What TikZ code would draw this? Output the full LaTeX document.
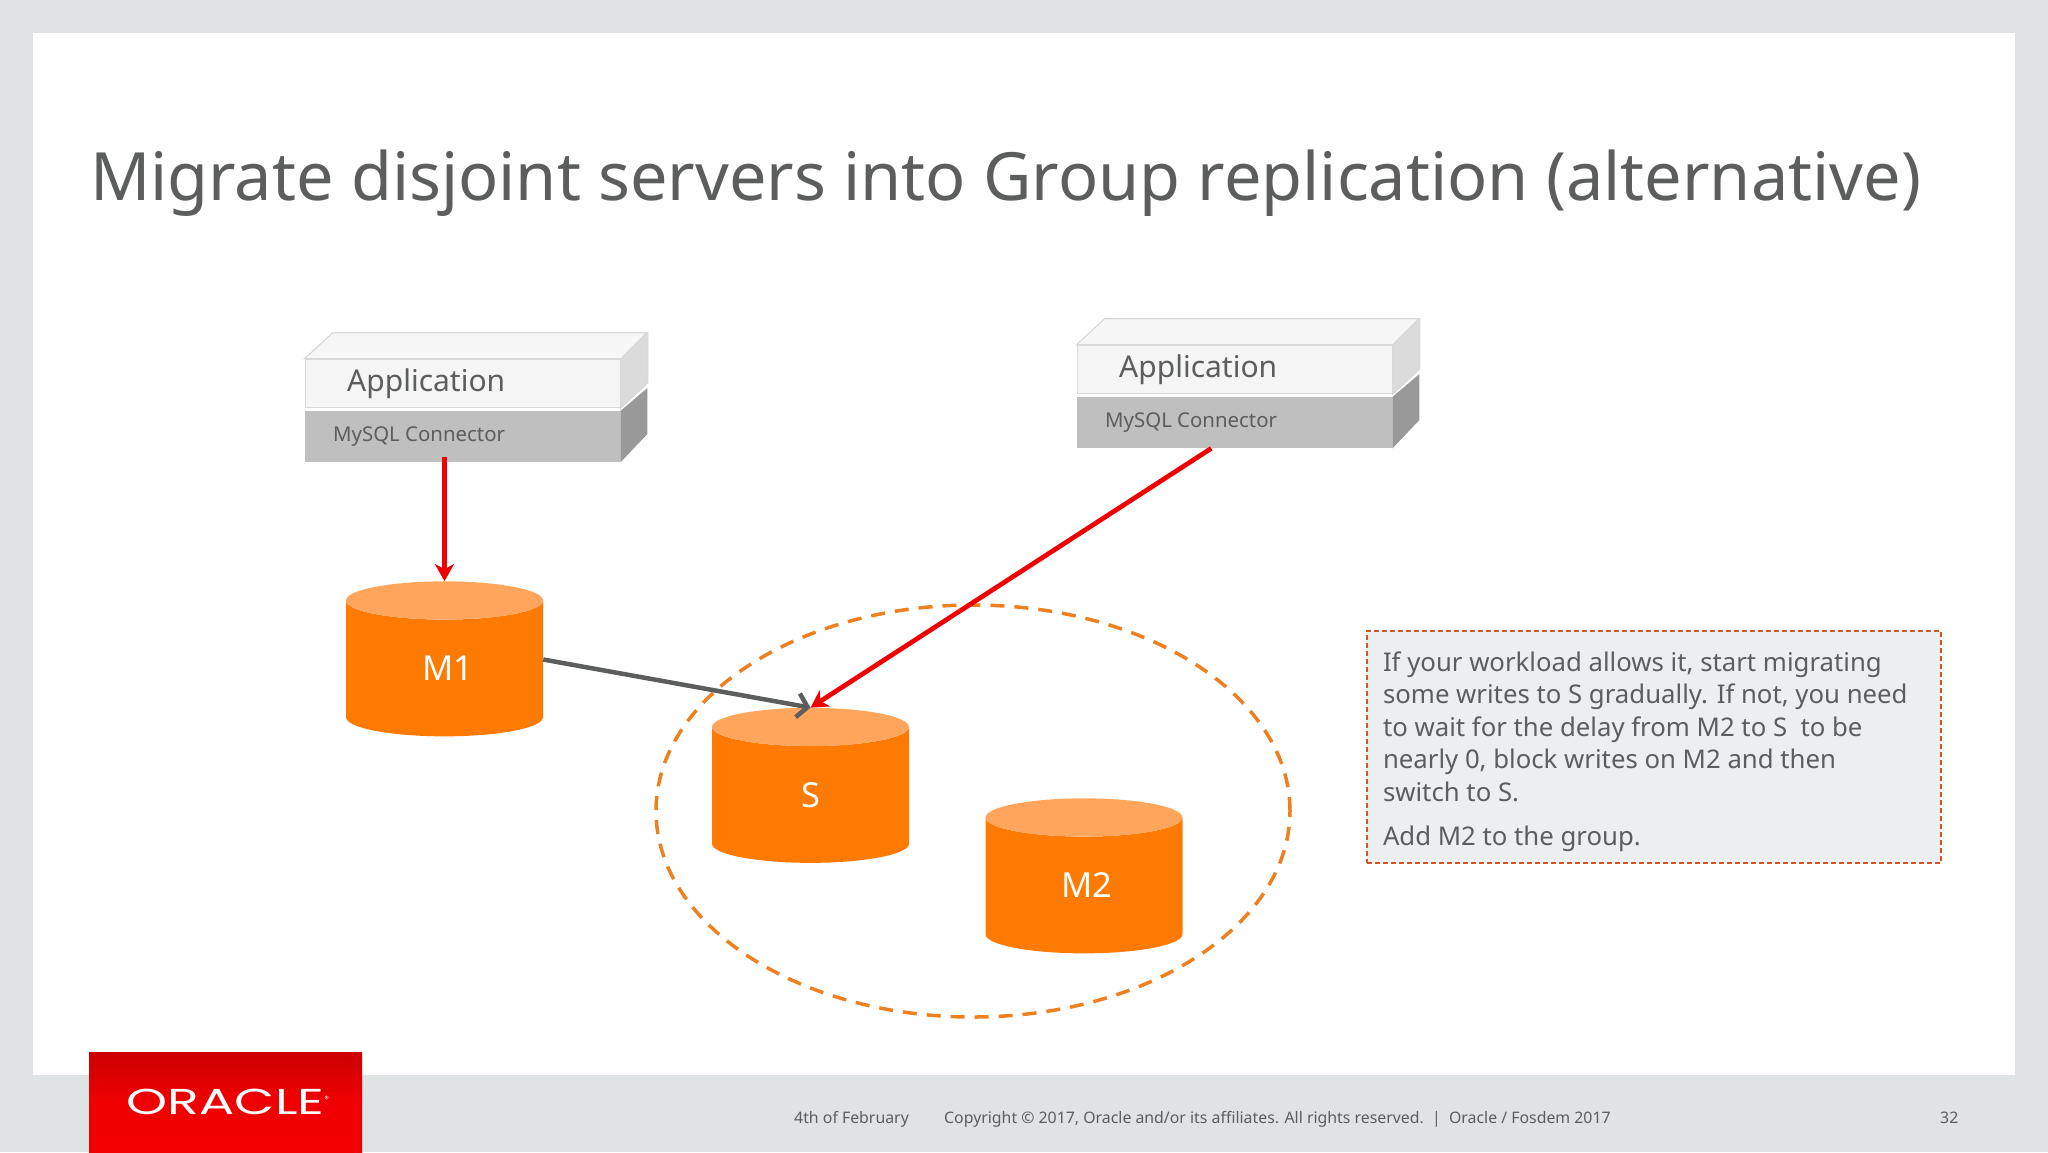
\documentclass[tikz,border=0pt]{standalone}
\usepackage{fontspec}
\setmainfont{Noto Sans}
\newfontfamily\logofont{Poppins}
\usetikzlibrary{shapes.geometric, calc, positioning, arrows.meta}
\definecolor{framegray}{HTML}{DFE3E3}
\definecolor{textgray}{HTML}{5C5E5E}
\definecolor{dborange}{HTML}{FF7A00}
\definecolor{dbtop}{HTML}{FFA65C}
\definecolor{ringorange}{HTML}{EE8020}
\definecolor{notefill}{HTML}{ECEFF0}
\definecolor{noteborder}{HTML}{D0562A}
\definecolor{arrowred}{HTML}{F00000}

\begin{document}
\begin{tikzpicture}[
		x=1pt, y=-1pt,
		>=Stealth,
		appface/.style={
				draw=black!15,
				line width=1.2pt,
				fill=black!4,
				rectangle,
				minimum width=315pt,
				minimum height=48pt,
				inner xsep=42pt,
				inner ysep=0pt,
				text width=231pt,
				align=flush left,
				text=textgray,
				font=\fontsize{30}{36}\selectfont
			},
		connface/.style={
				fill=black!25,
				rectangle,
				minimum width=315pt,
				minimum height=51pt,
				inner xsep=28pt,
				inner ysep=0pt,
				text width=259pt,
				align=flush left,
				text=textgray,
				font=\fontsize{20.4}{28}\selectfont
			},
		database/.style={
				cylinder,
				shape border rotate=90,
				cylinder uses custom fill,
				cylinder body fill=dborange,
				cylinder end fill=dbtop,
				aspect=0.85,
				minimum width=197pt,
				minimum height=155pt,
				inner sep=0pt,
				text width=45pt,
				text height=24pt,
				text depth=0pt,
				align=center,
				text=white,
				font=\fontsize{34.5}{40}\selectfont
			},
		writeflow/.style={
				->,
				draw=arrowred,
				line width=4.7pt,
				>={Stealth[length=17pt,width=19pt,inset=5pt]}
			},
		replflow/.style={
				->,
				draw=textgray,
				line width=4.5pt,
				>={Straight Barb[length=10pt,width=24pt]}
			},
		footer/.style={
				text=textgray,
				inner sep=0pt,
				anchor=base west,
				font=\fontsize{15.85}{20}\selectfont
			}
	]
	\useasboundingbox (0,0) rectangle (2048,1152);
	\fill[framegray] (0,0) rectangle (2048,1152);
	\fill[white] (33,33) rectangle (2015,1075);

	% Title
	\node[anchor=base west, inner sep=0pt, text=textgray, font=\fontsize{66.6}{80}\selectfont] (title) at (90,200) {Migrate disjoint servers into Group replication (alternative)};

	% Nodes
	\node[connface, anchor=north west] (conn_one) at (305,411) {MySQL Connector};
	\node[connface, anchor=north west] (conn_two) at (1077,397) {MySQL Connector};

	% Sides of the stacks
	\foreach \stack in {one,two} {
			\fill[black!40] (conn_\stack.north east) -- ++(27,-23) -- ++(0,46) -- (conn_\stack.south east) -- cycle;
		}
	\node[appface, above=3pt of conn_one] (app_one) {Application};
	\node[appface, above=3pt of conn_two] (app_two) {Application};
	\foreach \stack in {one,two} {
			\filldraw[draw=black!15, line width=1.2pt, fill=black!3] (app_\stack.north west) -- ++(28,-26) -- ++(314,0) -- (app_\stack.north east) -- cycle;
			\filldraw[draw=black!15, line width=1.2pt, fill=black!14] (app_\stack.north east) -- ++(27,-26) -- ++(0,50) -- (app_\stack.south east) -- cycle;
		}

	\node[draw=ringorange, line width=3.5pt, dash pattern=on 14pt off 10pt, ellipse, minimum width=634pt, minimum height=412pt] (group) at (973,811) {};
	\node[database] (m_one) at (444.5,668.5) {M1};
	\node[database] (s_node) at (810.5,795) {S};
	\node[database] (m_two) at (1084,885.5) {M2};

	% Note
	\node[draw=noteborder, line width=2pt, dash pattern=on 5pt off 3pt, fill=notefill, minimum width=574pt, minimum height=232pt, inner xsep=16pt, inner ysep=0pt, text width=542pt, align=flush left, text=textgray, font=\fontsize{25.75}{32.5}\selectfont] (note) at (1654,747) {\rule{0pt}{29pt}If your workload allows it, start migrating\\some writes to S gradually. If not, you need\\to wait for the delay from M2 to S~ to be\\nearly 0, block writes on M2 and then\\switch to S.\\[12pt]Add M2 to the group.};

	% Paths
	\draw[writeflow] ([yshift=5pt]m_one.north |- conn_one.south) -- (m_one.north);
	\draw[writeflow] ([xshift=-23.5pt]conn_two.south) -- (s_node.north);
	\draw[replflow] ([yshift=9pt]m_one.east) -- (s_node.north);

	% Footer
	\node[top color=red!80!black, bottom color=red!95!black, middle color=arrowred, minimum width=273pt, minimum height=100pt, inner xsep=0pt, inner ysep=0pt, text=white, font=\logofont\fontsize{36}{36}\selectfont] (logo) at (225.5,1102) {\hspace{5pt}\scalebox{1.45}[1]{ORACLE}\raisebox{12pt}{\fontsize{9}{9}\selectfont ®}};
	\node[footer] (date) at (794,1123) {4th of February};
	\node[footer] (copyright) at (944,1123) {Copyright © 2017, Oracle and/or its affiliates. All rights reserved.~~|~~Oracle / Fosdem 2017};
	\node[footer] (page) at (1940,1123) {32};
\end{tikzpicture}
\end{document}
